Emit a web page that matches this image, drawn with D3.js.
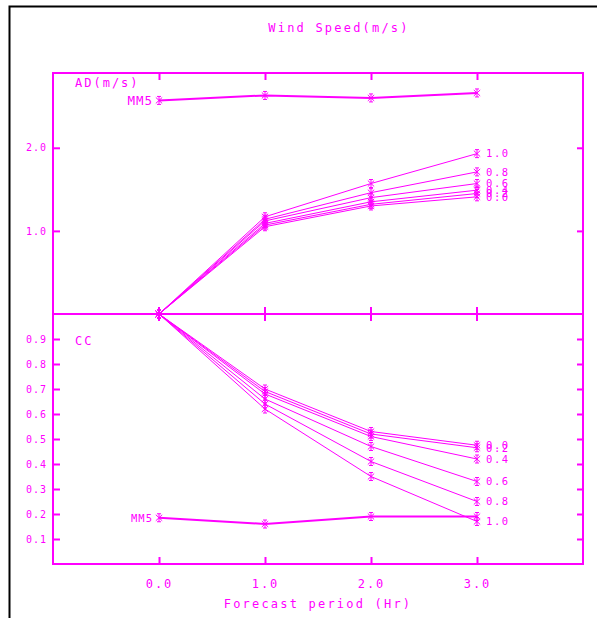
<!DOCTYPE html>
<html>
<head>
<meta charset="utf-8">
<script src="https://cdn.jsdelivr.net/npm/d3@7"></script>
<style>
  html, body { margin: 0; padding: 0; background: #fff; }
  svg { display: block; }
  text { font-family: "DejaVu Sans Mono", "Liberation Mono", monospace; fill: #ff00ff; }
</style>
</head>
<body>
<script>
// Forecast lead times (hours) and blending weights of the series
const forecastHours = [0, 1, 2, 3];
const xTickLabels = ["0.0", "1.0", "2.0", "3.0"];
const weightLabels = ["0.0", "0.2", "0.4", "0.6", "0.8", "1.0"];

// Absolute difference (m/s)
const adMM5 = [2.57, 2.63, 2.60, 2.66];
const ad00 = [0, 1.05, 1.30, 1.41];
const ad02 = [0, 1.07, 1.32, 1.45];
const ad04 = [0, 1.09, 1.35, 1.49];
const ad06 = [0, 1.12, 1.40, 1.57];
const ad08 = [0, 1.14, 1.46, 1.71];
const ad10 = [0, 1.17, 1.57, 1.93];
const adTicks = [1.0, 2.0];

// Correlation coefficient
const ccMM5 = [0.185, 0.16, 0.19, 0.19];
const cc00 = [1, 0.70, 0.53, 0.475];
const cc02 = [1, 0.69, 0.52, 0.465];
const cc04 = [1, 0.68, 0.51, 0.42];
const cc06 = [1, 0.66, 0.47, 0.33];
const cc08 = [1, 0.64, 0.41, 0.25];
const cc10 = [1, 0.62, 0.35, 0.17];
const ccTicks = [0.1, 0.2, 0.3, 0.4, 0.5, 0.6, 0.7, 0.8, 0.9];

const adSeries = [ad00, ad02, ad04, ad06, ad08, ad10];
const ccSeries = [cc00, cc02, cc04, cc06, cc08, cc10];

const W = 597, H = 618;
const C = "#ff00ff";
const L = 53, R = 583, T = 73, M = 314, B = 564;

const svg = d3.select("body").append("svg").attr("width", W).attr("height", H);

// outer page border
svg.append("rect").attr("x", 9.5).attr("y", 6.5).attr("width", 700).attr("height", 700)
  .attr("fill", "none").attr("stroke", "#000").attr("stroke-width", 2);

const x = d3.scaleLinear().domain([-1, 4]).range([L, R]);
const yAD = d3.scaleLinear().domain([0, 2.9]).range([M, T]);
const yCC = d3.scaleLinear().domain([0, 1]).range([B, M]);

svg.append("text").attr("x", 339).attr("y", 32).attr("text-anchor", "middle")
  .style("font-size", "12px").style("letter-spacing", "2.2px").text("Wind Speed(m/s)");

function styleAxis(g, fontSize, spacing) {
  g.select(".domain").remove();
  g.selectAll(".tick line").attr("stroke", C).attr("stroke-width", 2);
  g.selectAll(".tick text").attr("fill", C)
    .style("font-size", fontSize).style("letter-spacing", spacing)
    .style("font-family", '"DejaVu Sans Mono", monospace');
}

// left axes (ticks point inward)
svg.append("g").attr("transform", `translate(${L},0)`)
  .call(d3.axisLeft(yAD).tickValues(adTicks).tickFormat(d3.format(".1f")).tickSizeInner(-7).tickSizeOuter(0).tickPadding(6))
  .call(g => styleAxis(g, "10px", "1px"));
svg.append("g").attr("transform", `translate(${L},0)`)
  .call(d3.axisLeft(yCC).tickValues(ccTicks).tickFormat(d3.format(".1f")).tickSizeInner(-7).tickSizeOuter(0).tickPadding(6))
  .call(g => styleAxis(g, "10px", "1px"));

// right axes (ticks only)
svg.append("g").attr("transform", `translate(${R},0)`)
  .call(d3.axisRight(yAD).tickValues(adTicks).tickFormat("").tickSizeInner(-6).tickSizeOuter(0))
  .call(g => styleAxis(g, "10px", "0px"));
svg.append("g").attr("transform", `translate(${R},0)`)
  .call(d3.axisRight(yCC).tickValues(ccTicks).tickFormat("").tickSizeInner(-6).tickSizeOuter(0))
  .call(g => styleAxis(g, "10px", "0px"));

// top axis ticks
svg.append("g").attr("transform", `translate(0,${T})`)
  .call(d3.axisTop(x).tickValues(forecastHours).tickFormat("").tickSizeInner(-7).tickSizeOuter(0))
  .call(g => styleAxis(g, "10px", "0px"));

// bottom axis with labels
svg.append("g").attr("transform", `translate(0,${B})`)
  .call(d3.axisBottom(x).tickValues(forecastHours).tickFormat((d, i) => xTickLabels[i])
    .tickSizeInner(-7).tickSizeOuter(0).tickPadding(15))
  .call(g => styleAxis(g, "12px", "2px"));

// middle divider ticks cross both panels
svg.append("g").selectAll("line").data(forecastHours).join("line")
  .attr("x1", d => x(d)).attr("x2", d => x(d)).attr("y1", M - 7).attr("y2", M + 7)
  .attr("stroke", C).attr("stroke-width", 2);

// frame and divider
svg.append("rect").attr("x", L).attr("y", T).attr("width", R - L).attr("height", B - T)
  .attr("fill", "none").attr("stroke", C).attr("stroke-width", 2);
svg.append("line").attr("x1", L).attr("x2", R).attr("y1", M).attr("y2", M)
  .attr("stroke", C).attr("stroke-width", 2);

svg.append("text").attr("x", 318).attr("y", 608).attr("text-anchor", "middle")
  .style("font-size", "12px").style("letter-spacing", "2.2px").text("Forecast period (Hr)");

svg.append("text").attr("x", 75).attr("y", 87)
  .style("font-size", "12px").style("letter-spacing", "2px").text("AD(m/s)");
svg.append("text").attr("x", 75).attr("y", 345)
  .style("font-size", "12px").style("letter-spacing", "2px").text("CC");

const star = "M0,-4V4M-2,-4H2M-2,4H2M-3.2,-3L3.2,3M-3.2,3L3.2,-3";

function drawSeries(values, y, width) {
  const pts = forecastHours.map((h, i) => [x(h), y(values[i])]);
  svg.append("path").attr("d", d3.line()(pts)).attr("fill", "none")
    .attr("stroke", C).attr("stroke-width", width);
  svg.append("g").selectAll("path").data(pts).join("path")
    .attr("transform", d => `translate(${d[0]},${d[1]})`)
    .attr("d", star).attr("fill", "none").attr("stroke", C).attr("stroke-width", 1);
  return pts;
}

function panel(series, mm5, y, mm5Size) {
  series.forEach((vals, i) => {
    const pts = drawSeries(vals, y, 1);
    const last = pts[pts.length - 1];
    svg.append("text").attr("x", last[0] + 9).attr("y", last[1]).attr("dy", "0.36em")
      .style("font-size", "10.5px").style("letter-spacing", "1.6px").text(weightLabels[i]);
  });
  const mp = drawSeries(mm5, y, 2);
  svg.append("text").attr("x", mp[0][0] - 6).attr("y", mp[0][1]).attr("dy", "0.36em")
    .attr("text-anchor", "end").style("font-size", mm5Size).style("letter-spacing", "1px").text("MM5");
}

panel(adSeries, adMM5, yAD, "12.5px");
panel(ccSeries, ccMM5, yCC, "10.5px");
</script>
</body>
</html>
